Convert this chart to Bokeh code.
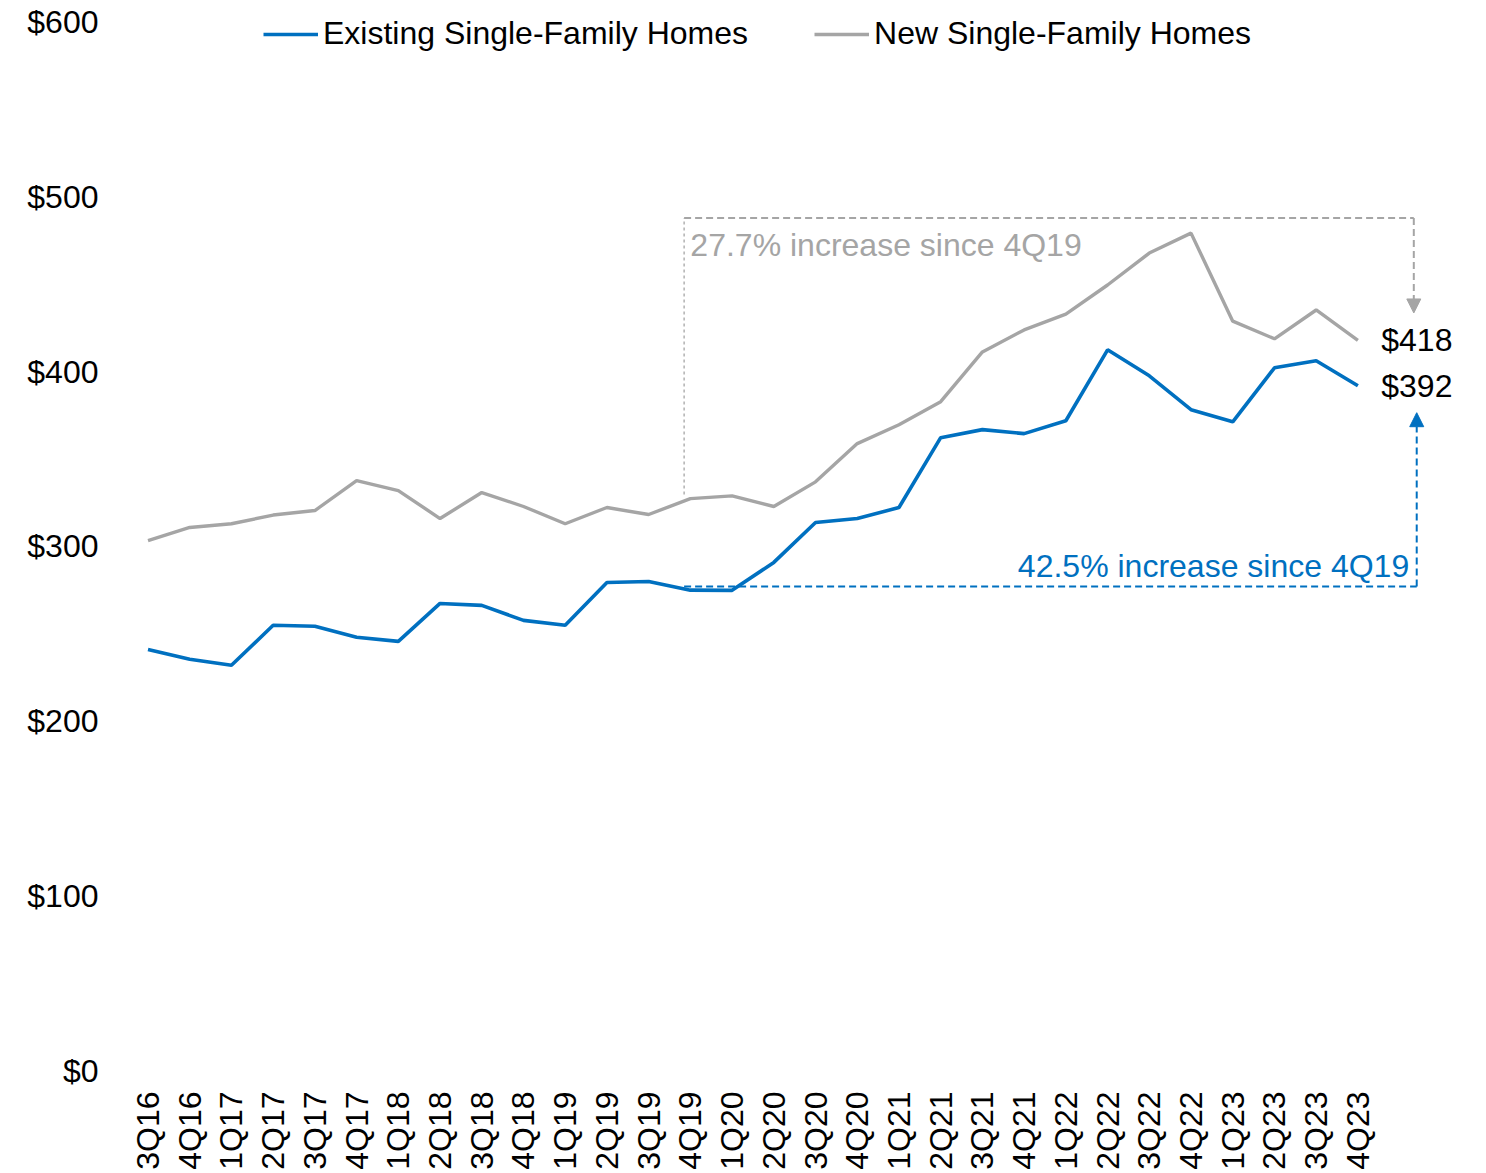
import math
from bokeh.plotting import figure
from bokeh.models import (FixedTicker, Legend, LegendItem, Arrow, NormalHead,
                          Range1d, NumeralTickFormatter)
from bokeh.core.properties import value
from bokeh.embed import file_html
from bokeh.resources import INLINE

# ---------------- data ----------------
quarters = ["3Q16", "4Q16", "1Q17", "2Q17", "3Q17", "4Q17", "1Q18", "2Q18",
            "3Q18", "4Q18", "1Q19", "2Q19", "3Q19", "4Q19", "1Q20", "2Q20",
            "3Q20", "4Q20", "1Q21", "2Q21", "3Q21", "4Q21", "1Q22", "2Q22",
            "3Q22", "4Q22", "1Q23", "2Q23", "3Q23", "4Q23"]
existing = [241, 235.4, 232, 254.9, 254.3, 248, 245.7, 267.4, 266.3, 257.7,
            254.9, 279.4, 280, 275, 274.9, 290.9, 313.7, 316, 322.3, 362.3,
            366.9, 364.6, 372, 412.6, 397.7, 378.3, 371.4, 402.3, 406.3, 392]
new = [303.4, 310.9, 313, 318, 320.6, 337.7, 332, 316, 330.9, 322.9,
       313, 322.3, 318.3, 327.4, 329, 322.9, 337, 358.9, 369.7, 382.9,
       411.4, 424, 433, 449.7, 468, 479.4, 429, 418.9, 435.4, 418]
y_ticks = [0, 100, 200, 300, 400, 500, 600]
series_names = ["Existing Single-Family Homes", "New Single-Family Homes"]
base_quarter = "4Q19"
existing_note = "42.5% increase since 4Q19"
new_note = "27.7% increase since 4Q19"

# ---------------- style ----------------
FONT = "Liberation Sans"
BLUE = "#0070C0"
GRAY = "#A5A5A5"
FS = "32px"

x = list(range(len(quarters)))
i0 = quarters.index(base_quarter)
last = x[-1]

p = figure(width=1478, height=1172, output_backend="svg", toolbar_location=None,
           x_range=Range1d(-0.899, 31.699), y_range=Range1d(0, 606.86),
           min_border_left=110, min_border_right=8, min_border_top=10,
           min_border_bottom=100)
p.outline_line_color = None
p.xgrid.visible = False
p.ygrid.visible = False
p.background_fill_color = "white"
p.border_fill_color = "white"

# y axis
p.yaxis.ticker = FixedTicker(ticks=y_ticks)
p.yaxis.formatter = NumeralTickFormatter(format="$0")
p.yaxis.axis_line_color = None
p.yaxis.major_tick_line_color = None
p.yaxis.minor_tick_line_color = None
p.yaxis.major_tick_out = 0
p.yaxis.major_label_standoff = 12
p.yaxis.major_label_text_font = FONT
p.yaxis.major_label_text_font_size = FS
p.yaxis.major_label_text_color = "black"

# x axis
p.xaxis.ticker = FixedTicker(ticks=x)
p.xaxis.major_label_overrides = {i: q for i, q in zip(x, quarters)}
p.xaxis.major_label_orientation = math.pi / 2
p.xaxis.axis_line_color = None
p.xaxis.major_tick_line_color = None
p.xaxis.minor_tick_line_color = None
p.xaxis.major_tick_out = 0
p.xaxis.major_label_standoff = 21
p.xaxis.major_label_text_font = FONT
p.xaxis.major_label_text_font_size = FS
p.xaxis.major_label_text_color = "black"

# ---------------- annotations (behind lines) ----------------
gx0 = i0 - 0.15
g_top = max(new) + 8.6
gx1 = last + 1.34
p.line([gx0, gx0], [new[i0] + 2.3, g_top], line_color=GRAY, line_width=1.3,
       line_dash="3 3")
p.line([gx0, gx1], [g_top, g_top], line_color=GRAY, line_width=2,
       line_dash="7 4")
p.add_layout(Arrow(x_start=gx1, y_start=g_top, x_end=gx1, y_end=new[-1] + 15.7,
                   line_color=GRAY, line_width=2, line_dash="7 4",
                   end=NormalHead(size=14, fill_color=GRAY, line_color=GRAY,
                                  line_width=1)))

b_y = existing[i0] + 2.1
bx1 = last + 1.41
p.line([gx0, bx1], [b_y, b_y], line_color=BLUE, line_width=2, line_dash="7 4")
p.add_layout(Arrow(x_start=bx1, y_start=b_y, x_end=bx1, y_end=existing[-1] - 15.4,
                   line_color=BLUE, line_width=2, line_dash="7 4",
                   end=NormalHead(size=14, fill_color=BLUE, line_color=BLUE,
                                  line_width=1)))

p.text(x=[i0], y=[g_top - 15.4], text=[new_note], text_color=GRAY,
       text_font=value(FONT), text_font_size=FS, text_align="left",
       text_baseline="middle")
p.text(x=[last + 1.23], y=[existing[i0] + 13.7], text=[existing_note],
       text_color=BLUE, text_font=value(FONT), text_font_size=FS,
       text_align="right", text_baseline="middle")

# ---------------- series ----------------
r_new = p.line(x, new, line_color=GRAY, line_width=3.4)
r_ex = p.line(x, existing, line_color=BLUE, line_width=3.6)

p.text(x=[last + 0.56, last + 0.56], y=[new[-1], existing[-1]],
       text=[f"${new[-1]:.0f}", f"${existing[-1]:.0f}"], text_color="black",
       text_font=value(FONT), text_font_size=FS, text_align="left",
       text_baseline="middle")

legend = Legend(items=[LegendItem(label=series_names[0], renderers=[r_ex]),
                       LegendItem(label=series_names[1], renderers=[r_new])],
                orientation="horizontal", location=(153, 1018),
                glyph_width=55, glyph_height=36, label_height=36,
                label_standoff=5, spacing=66, padding=0, margin=0,
                border_line_color=None, background_fill_alpha=0,
                label_text_font=FONT, label_text_font_size=FS,
                label_text_color="black")
p.add_layout(legend)

open("out.html", "w").write(file_html(p, INLINE))
